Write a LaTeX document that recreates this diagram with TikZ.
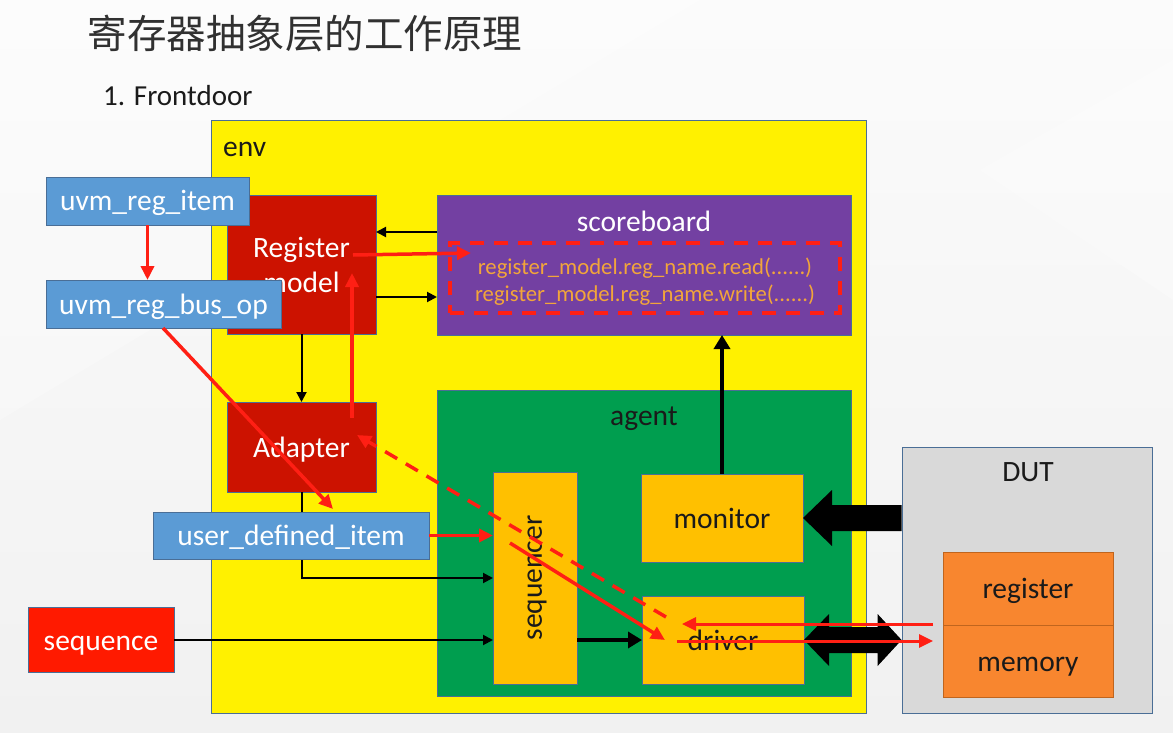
\documentclass[tikz,border=0pt]{standalone}
\usepackage{fontspec}
\setmainfont{Carlito}
\newfontfamily\cjkfont{Noto Sans CJK SC}
\usetikzlibrary{arrows.meta,calc}

\definecolor{envyellow}{HTML}{FFF100}
\definecolor{boxline}{HTML}{4A6E96}
\definecolor{modelred}{HTML}{CC1200}
\definecolor{seqred}{HTML}{FF1A00}
\definecolor{sbpurple}{HTML}{7340A2}
\definecolor{codeorange}{HTML}{F2A53A}
\definecolor{agentgreen}{HTML}{009E4F}
\definecolor{comporange}{HTML}{FFC000}
\definecolor{itemblue}{HTML}{5B9BD5}
\definecolor{dutgray}{HTML}{D9D9D9}
\definecolor{hwor}{HTML}{F8862F}
\definecolor{hwline}{HTML}{C0651E}
\definecolor{flowred}{HTML}{FF1F14}
\definecolor{inktext}{HTML}{1A1A1A}

\newcommand\txtbody{\fontsize{29.5}{35}\selectfont}
\newcommand\txtcode{\fontsize{22.7}{27}\selectfont}

\begin{document}
\begin{tikzpicture}[x=1pt,y=-1pt,
  box/.style={draw=boxline, line width=0.8pt, inner sep=0pt, outer sep=0pt,
              font=\txtbody, align=center},
  oneline/.style={text height=20pt, text depth=0pt},
  whitebox/.style={box, oneline, text=white},
  darkbox/.style={box, oneline, text=inktext},
  caption/.style={font=\txtbody, text=inktext, inner sep=0pt, oneline},
  blackarr/.style={draw=black, line width=2pt, -{Triangle[length=10pt,width=10pt]}},
  boldarr/.style={draw=black, line width=4pt, -{Triangle[length=14pt,width=16pt]}},
  redarr/.style={draw=flowred, line width=3.5pt, -{Triangle[length=14pt,width=13pt]}},
  reddash/.style={redarr, dash pattern=on 14pt off 10pt}
]
\useasboundingbox (0,0) rectangle (1173,733);

% slide background
\shade[top color=white!97!gray, bottom color=white!89!gray] (0,0) rectangle (1173,733);
\fill[white, opacity=0.25] (0,0) -- (700,0) -- (0,420) -- cycle;
\fill[white, opacity=0.25] (1173,60) -- (1173,300) -- (980,170) -- cycle;

% heading
\node[font=\cjkfont\fontsize{39.5}{40}\selectfont, text=inktext!90, inner sep=0pt]
  (title) at (305,34) {寄存器抽象层的工作原理};
\node[font=\fontsize{29}{30}\selectfont, text=inktext, anchor=west, inner sep=0pt]
  (sub) at (103,96) {1. Frontdoor};

% environment container
\node[box, fill=envyellow, minimum width=655, minimum height=593] (env) at (538.5,416.5) {};
\node[caption, anchor=west] (envlbl) at (223,147) {env};

% register model side
\node[box, text=white, fill=modelred, minimum width=149, minimum height=139] (regmodel) at (301.5,264.5) {Register\\model};
\node[whitebox, fill=modelred, minimum width=149, minimum height=90] (adapter) at (301.5,447) {Adapter};

% scoreboard
\node[box, fill=sbpurple, minimum width=414, minimum height=140] (scoreboard) at (644,265) {};
\node[caption, text=white] (sblbl) at (644,221) {scoreboard};
\node[draw=flowred, line width=4pt, dash pattern=on 14pt off 10pt, inner sep=0pt,
      minimum width=390, minimum height=70] (codebox) at (645,278) {};
\node[font=\txtcode, text=codeorange, inner sep=0pt] (readcall) at (645,268) {register\_model.reg\_name.read(......)};
\node[font=\txtcode, text=codeorange, inner sep=0pt] (writecall) at (645,295) {register\_model.reg\_name.write(......)};

% agent
\node[box, fill=agentgreen, minimum width=414, minimum height=306] (agent) at (644,543) {};
\node[caption] (agentlbl) at (644,415) {agent};
\node[box, fill=comporange, minimum width=84, minimum height=212] (sequencer) at (535,578) {};
\node[font=\txtbody, text=inktext, rotate=90, inner sep=0pt] (seqrlbl) at (537,578) {sequencer};
\node[darkbox, fill=comporange, minimum width=162, minimum height=88] (monitor) at (722,518) {monitor};
\node[darkbox, fill=comporange, minimum width=162, minimum height=88] (driver) at (723,640) {driver};

% DUT
\node[draw=boxline, line width=0.8pt, fill=dutgray, inner sep=0pt, minimum width=250, minimum height=266] (DUT) at (1027,580) {};
\node[caption] (dutlbl) at (1028,471) {DUT};
\node[darkbox, draw=hwline, fill=hwor, minimum width=170, minimum height=73] (register) at (1028,588.5) {register};
\node[darkbox, draw=hwline, fill=hwor, minimum width=170, minimum height=72] (memory) at (1028,661) {memory};

% black connectors inside env
\draw[blackarr] ($(scoreboard.north west)+(0,37)$) -- ($(regmodel.north east)+(0,37)$);
\draw[blackarr] ($(regmodel.north east)+(0,102)$) -- ($(scoreboard.north west)+(0,102)$);
\draw[blackarr] (regmodel.south) -- (adapter.north);
\draw[blackarr] (adapter.south) |- ($(sequencer.north west)+(0,106)$);
\draw[boldarr, line width=3.5pt] (monitor.north) -- (monitor.north |- scoreboard.south);
\draw[boldarr] (sequencer.east |- driver.west) -- (driver.west);

% transaction items
\node[whitebox, fill=itemblue, minimum width=203, minimum height=48] (regitem) at (147.5,201) {uvm\_reg\_item};
\node[whitebox, fill=itemblue, minimum width=235, minimum height=48] (busop) at (163.5,304) {uvm\_reg\_bus\_op};
\node[whitebox, fill=itemblue, minimum width=276, minimum height=47] (udi) at (291,535.5) {user\_defined\_item};
\node[whitebox, fill=seqred, minimum width=146, minimum height=65] (sequence) at (101,640) {sequence};

\draw[blackarr] (sequence.east) -- (sequence.east -| sequencer.west);

% bus interfaces between agent and DUT
\fill[black] (monitor.east) -- ++(29,-28) -- ++(0,15)
  -- ($(DUT.west |- monitor.east)+(0,-13)$) -- ++(0,26)
  -- ($(monitor.east)+(29,13)$) -- ++(0,15) -- cycle;
\fill[black] (driver.east) -- ++(25,-26) -- ++(0,13)
  -- ($(DUT.west |- driver.east)+(-24,-13)$) -- ++(0,-13)
  -- (DUT.west |- driver.east) -- ++(-24,26) -- ++(0,-13)
  -- ($(driver.east)+(25,13)$) -- ++(0,13) -- cycle;

% red frontdoor access path
\draw[redarr] (regitem.south) -- (regitem.south |- busop.north);
\draw[redarr] ($(regmodel.north east)+(-23,60)$) -- ($(codebox.north west)+(23,12)$);
\draw[redarr] ($(adapter.north east)+(-24,16)$) -- ($(regmodel.north east)+(-24,78)$);
\draw[redarr] ($(busop.south west)+(117,0)$) -- ($(udi.north west)+(180,-3)$);
\draw[redarr] (udi.east) -- (udi.east -| sequencer.west);
\draw[redarr] ($(sequencer.north west)+(17,71)$) -- ($(driver.west)+(23,0)$);
\draw[reddash] ($(driver.north west)+(24,21)$) -- ($(adapter.north east)+(-19,33)$);
\draw[redarr, line width=3pt] ($(register.south west)+(-10,-1)$) -- ($(driver.west)+(40,-16)$);
\draw[redarr, line width=3pt] ($(driver.west)+(35,1)$) -- ($(register.south west)+(-10,16)$);
\end{tikzpicture}
\end{document}
